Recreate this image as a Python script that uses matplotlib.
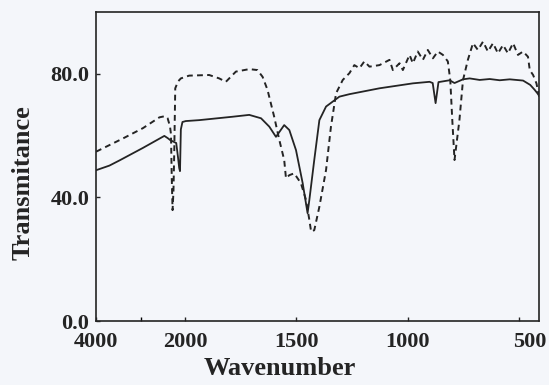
import numpy as np
import matplotlib
matplotlib.use("Agg")
import matplotlib.pyplot as plt

# IR spectra (wavenumber in cm-1, transmittance in %)
solid_wn = [4000, 3700, 3470, 2950, 2467, 2393, 2330, 2200, 2160, 2133, 2115, 2096, 2060, 1997,
            1937, 1787, 1712, 1659, 1622, 1592, 1555, 1532, 1502, 1472, 1450, 1442, 1420, 1397,
            1367, 1307, 1262, 1127, 977, 902, 888, 875, 862, 812, 790, 752, 722, 677, 632, 587,
            542, 482, 450, 430, 410]
solid_T = [48.8, 50.3, 52.0, 56.0, 59.9, 59.2, 58.5, 57.6, 53.0, 49.5, 48.5, 62.0, 64.4, 64.7,
           65.0, 66.1, 66.7, 65.6, 62.9, 59.6, 63.4, 61.8, 55.3, 44.6, 34.9, 39.2, 52.1, 65.0,
           69.4, 72.6, 73.4, 75.3, 76.9, 77.4, 77.0, 70.5, 77.3, 77.9, 77.0, 78.2, 78.5, 78.0,
           78.3, 77.9, 78.2, 77.8, 76.4, 74.8, 73.0]

dashed_wn = [4000, 3393, 2949, 2578, 2450, 2393, 2340, 2318, 2300, 2282, 2262, 2244, 2222, 2160,
             2096, 1982, 1892, 1847, 1817, 1772, 1712, 1675, 1652, 1630, 1600, 1577, 1555, 1547,
             1532, 1510, 1480, 1457, 1442, 1434, 1420, 1397, 1367, 1345, 1322, 1292, 1262, 1240,
             1217, 1195, 1172, 1127, 1082, 1067, 1037, 1022, 992, 977, 955, 932, 910, 887, 865,
             842, 820, 809, 800, 790, 768, 752, 730, 707, 685, 662, 640, 617, 595, 572, 550, 527,
             505, 482, 460, 452, 437, 422, 410]
dashed_T = [54.8, 59.1, 62.4, 65.9, 66.3, 65.6, 63.0, 60.5, 46.0, 35.9, 42.0, 55.0, 75.3, 77.5,
            78.5, 79.4, 79.6, 78.5, 77.4, 80.7, 81.5, 81.2, 79.0, 74.8, 66.1, 58.6, 52.1, 46.2,
            47.2, 47.8, 44.6, 39.2, 32.7, 28.9, 29.4, 37.0, 48.9, 62.9, 73.7, 78.0, 80.2, 82.8,
            81.8, 84.0, 82.3, 82.8, 84.5, 81.2, 83.4, 81.2, 86.1, 83.4, 87.2, 84.5, 87.7, 85.0,
            87.2, 86.1, 84.0, 77.9, 65.0, 52.1, 65.0, 77.9, 84.5, 89.9, 87.7, 90.4, 87.2, 89.9,
            86.6, 89.3, 86.6, 89.9, 86.1, 87.2, 85.5, 81.2, 79.6, 76.9, 72.6]

x_ticks = [4000, 2000, 1500, 1000, 500]
y_ticks = [0, 40, 80]


# the region above 2000 cm-1 is compressed (about 1/5 scale)
def fwd(w):
    w = np.asarray(w, dtype=float)
    return np.where(w <= 2000, w, 2000 + (w - 2000) * 0.2)


def inv(p):
    p = np.asarray(p, dtype=float)
    return np.where(p <= 2000, p, 2000 + (p - 2000) / 0.2)


plt.rcParams['font.family'] = ['Liberation Serif', 'DejaVu Serif']
plt.rcParams['font.weight'] = 'bold'
ink = '#242424'

fig = plt.figure(figsize=(5.49, 3.85), dpi=100, facecolor='#f4f6fa')
ax = fig.add_axes([0.175, 0.166, 0.807, 0.803])
ax.set_facecolor('#f4f6fa')

ax.set_xscale('function', functions=(fwd, inv))
ax.plot(solid_wn, solid_T, color=ink, lw=1.3)
ax.plot(dashed_wn, dashed_T, color=ink, lw=1.4, linestyle=(0, (3, 2.2)))

ax.set_xlim(4000, 410)
ax.set_ylim(0, 100)

# last label (500) sits in the lower right corner, drawn separately below
ax.set_xticks(x_ticks)
ax.set_xticklabels([str(t) for t in x_ticks[:-1]] + [''])
ax.set_xticks([3000], minor=True)
ax.set_yticks(y_ticks)
ax.set_yticklabels(['%.1f' % t for t in y_ticks])
ax.tick_params(direction='in', length=3, width=1, labelsize=16, pad=5, colors=ink)
ax.tick_params(axis='x', which='minor', direction='in', length=3, width=1)
ax.tick_params(axis='x', pad=8)
ax.text(1.017, -0.036, str(x_ticks[-1]), transform=ax.transAxes, ha='right', va='top',
        fontsize=16, fontweight='bold', color=ink)

for s in ax.spines.values():
    s.set_linewidth(1.2)
    s.set_color(ink)

ax.set_xlabel('Wavenumber', fontsize=19, fontweight='bold', color=ink)
ax.set_ylabel('Transmitance', fontsize=19, fontweight='bold', color=ink)
ax.xaxis.set_label_coords(0.415, -0.115)
ax.yaxis.set_label_coords(-0.138, 0.447)

plt.savefig('out.png', dpi=100, facecolor=fig.get_facecolor())
